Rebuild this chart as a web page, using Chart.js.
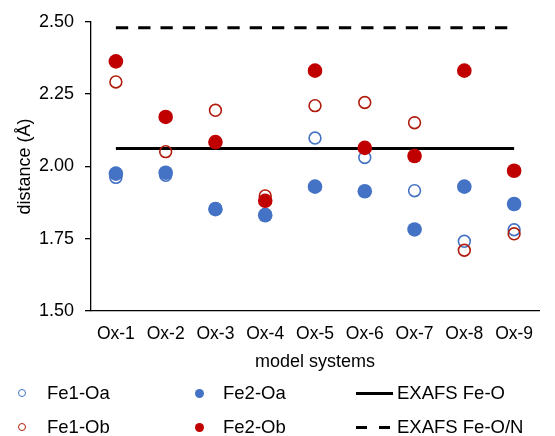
<!DOCTYPE html>
<html>
<head>
<meta charset="utf-8">
<script src="https://cdn.jsdelivr.net/npm/chart.js@4.4.1/dist/chart.umd.min.js"></script>
<style>
    body { margin: 0; background: #fff; font-family: "Liberation Sans", Arial, sans-serif; }
    #wrap { position: relative; width: 555px; height: 436px; }
    #myChart { position: absolute; left: 0; top: 0; }
    .leg { position: absolute; font-size: 18.5px; color: #000; white-space: nowrap; line-height: 22px; }
    .mk { position: absolute; box-sizing: border-box; border-radius: 50%; }
    .ln { position: absolute; height: 0; border-top: 3px solid #000; }
</style>
</head>
<body>
<div id="wrap">
    <canvas id="myChart" width="555" height="436"></canvas>
    <div id="legend"></div>
</div>
<script>
const categorias = ['Ox-1', 'Ox-2', 'Ox-3', 'Ox-4', 'Ox-5', 'Ox-6', 'Ox-7', 'Ox-8', 'Ox-9']

// distancias (Å) por sistema
const fe1Oa = [1.962, 1.969, 1.855, 1.835, 2.098, 2.031, 1.916, 1.741, 1.781]
const fe2Oa = [1.975, 1.978, 1.852, 1.831, 1.930, 1.914, 1.782, 1.930, 1.870]
const fe1Ob = [2.292, 2.051, 2.194, 1.898, 2.210, 2.221, 2.151, 1.710, 1.767]
const fe2Ob = [2.363, 2.171, 2.084, 1.881, 2.331, 2.064, 2.036, 2.331, 1.985]

// valores EXAFS
const exafsFeO = 2.062
const exafsFeON = 2.479

const yTicks = [1.50, 1.75, 2.00, 2.25, 2.50]

const azul = '#4472C4'
const vermelho = '#C00000'
const vermelhoEsc = '#B01A0A'

const ctx = document.getElementById('myChart').getContext('2d')

function aberto(label, data, cor, ordem) {
    return {
        label: label, data: data, showLine: false, order: ordem,
        pointRadius: 5.9, pointHoverRadius: 5.9, pointBorderWidth: 1.6,
        pointBackgroundColor: 'rgba(255,255,255,0)', pointBorderColor: cor,
        borderColor: cor, backgroundColor: cor
    }
}

function cheio(label, data, cor, ordem) {
    return {
        label: label, data: data, showLine: false, order: ordem,
        pointRadius: 7.3, pointHoverRadius: 7.3, pointBorderWidth: 0,
        pointBackgroundColor: cor, pointBorderColor: cor,
        borderColor: cor, backgroundColor: cor
    }
}

function linha(label, valor, dash, ordem) {
    return {
        label: label, data: categorias.map(() => valor), order: ordem,
        borderColor: '#000', borderWidth: 3, borderDash: dash,
        pointRadius: 0, pointHoverRadius: 0, fill: false
    }
}

const myChart = new Chart(ctx, {
    type: 'line',
    data: {
        labels: categorias,
        datasets: [
            aberto('Fe1-Oa', fe1Oa, azul, 6),
            cheio('Fe2-Oa', fe2Oa, azul, 5),
            linha('EXAFS Fe-O', exafsFeO, [], 4),
            aberto('Fe1-Ob', fe1Ob, vermelhoEsc, 3),
            cheio('Fe2-Ob', fe2Ob, vermelho, 2),
            linha('EXAFS Fe-O/N', exafsFeON, [12.3, 10], 1)
        ]
    },
    options: {
        responsive: false,
        animation: false,
        layout: { padding: { top: 21, right: 16, bottom: 63, left: 0 } },
        plugins: {
            legend: { display: false },
            tooltip: { enabled: false }
        },
        scales: {
            x: {
                type: 'category',
                offset: true,
                grid: { display: false, drawTicks: false },
                border: { display: true, color: '#000', width: 1.3 },
                afterFit: s => { s.height = 62 },
                ticks: {
                    color: '#000', padding: 13,
                    font: { family: 'Liberation Sans', size: 17.5 }
                },
                title: {
                    display: true, text: 'model systems', color: '#000',
                    padding: { top: 0, bottom: 0 },
                    font: { family: 'Liberation Sans', size: 18 }
                }
            },
            y: {
                min: 1.5,
                max: 2.5,
                grid: { drawOnChartArea: false, drawTicks: true, tickLength: 6, color: '#000', lineWidth: 1.3 },
                border: { display: true, color: '#000', width: 1.3 },
                afterBuildTicks: s => { s.ticks = yTicks.map(v => ({ value: v })) },
                afterFit: s => { s.width = 91 },
                ticks: {
                    color: '#000', padding: 11,
                    font: { family: 'Liberation Sans', size: 18 },
                    callback: v => Number(v).toFixed(2)
                },
                title: {
                    display: true, text: 'distance (Å)', color: '#000',
                    padding: { top: 14, bottom: 0 },
                    font: { family: 'Liberation Sans', size: 18 }
                }
            }
        }
    }
})

// legenda em 3 colunas x 2 linhas
const legend = document.querySelector('#legend')
const itens = [
    { nome: 'Fe1-Oa', tipo: 'aberto', cor: azul, col: 0, lin: 0 },
    { nome: 'Fe2-Oa', tipo: 'cheio', cor: azul, col: 1, lin: 0 },
    { nome: 'EXAFS Fe-O', tipo: 'linha', col: 2, lin: 0 },
    { nome: 'Fe1-Ob', tipo: 'aberto', cor: vermelhoEsc, col: 0, lin: 1 },
    { nome: 'Fe2-Ob', tipo: 'cheio', cor: vermelho, col: 1, lin: 1 },
    { nome: 'EXAFS Fe-O/N', tipo: 'tracejado', col: 2, lin: 1 }
]
const colMarca = [22, 199, 356]
const colTexto = [47, 223, 397]
const linY = [393, 427]

itens.forEach(it => {
    const y = linY[it.lin]
    if (it.tipo == 'aberto' || it.tipo == 'cheio') {
        const m = document.createElement('div')
        m.className = 'mk'
        const d = it.tipo == 'aberto' ? 8.5 : 9
        m.style.width = d + 'px'
        m.style.height = d + 'px'
        m.style.left = (colMarca[it.col] - d / 2) + 'px'
        m.style.top = (y - d / 2) + 'px'
        if (it.tipo == 'aberto') {
            m.style.border = '1.5px solid ' + it.cor
        } else {
            m.style.background = it.cor
        }
        legend.appendChild(m)
    } else if (it.tipo == 'linha') {
        const l = document.createElement('div')
        l.className = 'ln'
        l.style.left = colMarca[it.col] + 'px'
        l.style.width = '37px'
        l.style.top = (y - 1.5) + 'px'
        legend.appendChild(l)
    } else {
        [0, 23].forEach(dx => {
            const l = document.createElement('div')
            l.className = 'ln'
            l.style.left = (colMarca[it.col] + dx) + 'px'
            l.style.width = '11px'
            l.style.top = (y - 1.5) + 'px'
            legend.appendChild(l)
        })
    }
    const t = document.createElement('div')
    t.className = 'leg'
    t.textContent = it.nome
    t.style.left = colTexto[it.col] + 'px'
    t.style.top = (y - 11) + 'px'
    legend.appendChild(t)
})
</script>
</body>
</html>
